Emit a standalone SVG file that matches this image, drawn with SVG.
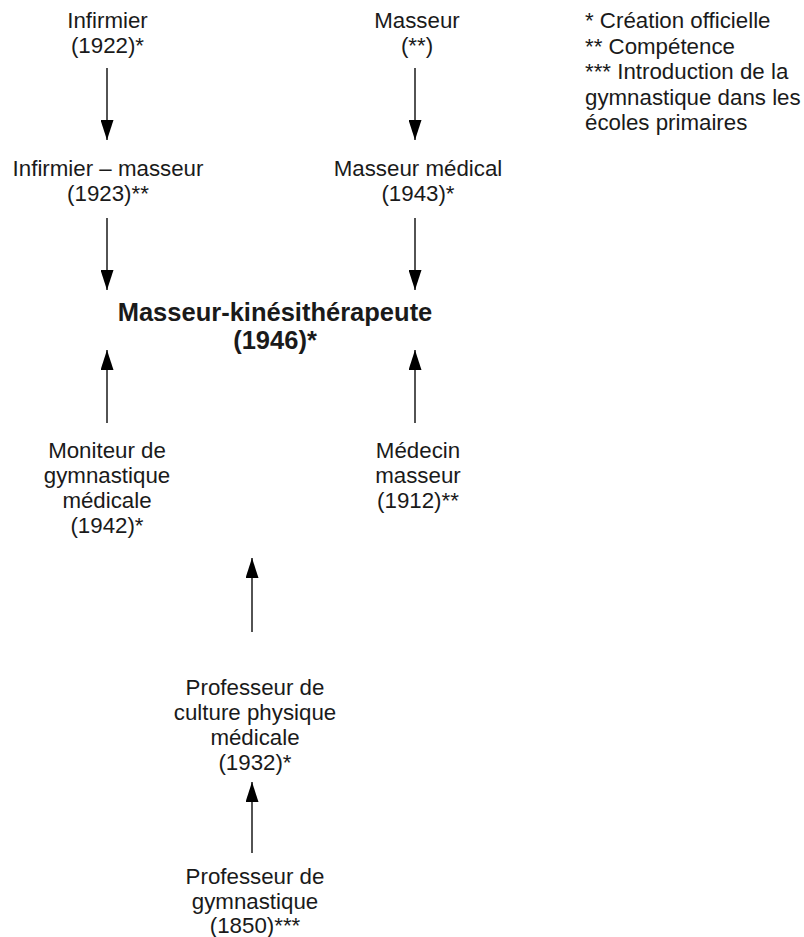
<svg xmlns="http://www.w3.org/2000/svg" width="804" height="937" viewBox="0 0 804 937">
<style>
text{font-family:"Liberation Sans",Arial,sans-serif;font-size:22.3px;fill:#1a1a1a}
.c{text-anchor:middle}
.b{font-weight:bold;font-size:25.5px}
.e{stroke:#1a1a1a;stroke-width:1.5;fill:none;marker-end:url(#ah)}
</style>
<defs>
<marker id="ah" markerUnits="userSpaceOnUse" markerWidth="20" markerHeight="13" refX="20" refY="6.5" orient="auto">
<path d="M0,0 L20,6.5 L0,13 z" fill="#000"/>
</marker>
</defs>
<rect width="804" height="937" fill="#fff"/>
<g id="connectors">
<line class="e" x1="107" y1="68" x2="107" y2="140"/>
<line class="e" x1="415" y1="68" x2="415" y2="140"/>
<line class="e" x1="107" y1="218" x2="107" y2="290"/>
<line class="e" x1="415" y1="218" x2="415" y2="290"/>
<line class="e" x1="107" y1="423" x2="107" y2="350"/>
<line class="e" x1="415" y1="423" x2="415" y2="350"/>
<line class="e" x1="252" y1="632" x2="252" y2="558"/>
<line class="e" x1="252" y1="853" x2="252" y2="782"/>
</g>
<g id="infirmier"><text class="c" x="107.5" y="28">Infirmier</text><text class="c" x="107.5" y="53">(1922)*</text></g>
<g id="masseur"><text class="c" x="417" y="28">Masseur</text><text class="c" x="417" y="53">(**)</text></g>
<g id="legend">
<text x="585" y="28">* Création officielle</text>
<text x="585" y="53.5">** Compétence</text>
<text x="585" y="79">*** Introduction de la</text>
<text x="585" y="104.5">gymnastique dans les</text>
<text x="585" y="130">écoles primaires</text>
</g>
<g id="infirmier-masseur"><text class="c" x="108" y="176">Infirmier – masseur</text><text class="c" x="108" y="201">(1923)**</text></g>
<g id="masseur-medical"><text class="c" x="418" y="176">Masseur médical</text><text class="c" x="418" y="201">(1943)*</text></g>
<g id="mk"><text class="c b" x="275" y="321">Masseur-kinésithérapeute</text><text class="c b" x="275" y="349">(1946)*</text></g>
<g id="moniteur"><text class="c" x="107" y="458">Moniteur de</text><text class="c" x="107" y="483">gymnastique</text><text class="c" x="107" y="508">médicale</text><text class="c" x="107" y="533">(1942)*</text></g>
<g id="medecin"><text class="c" x="418" y="458">Médecin</text><text class="c" x="418" y="483">masseur</text><text class="c" x="418" y="508">(1912)**</text></g>
<g id="prof-culture"><text class="c" x="255" y="695">Professeur de</text><text class="c" x="255" y="720">culture physique</text><text class="c" x="255" y="745">médicale</text><text class="c" x="255" y="770">(1932)*</text></g>
<g id="prof-gym"><text class="c" x="255" y="884">Professeur de</text><text class="c" x="255" y="909">gymnastique</text><text class="c" x="255" y="933">(1850)***</text></g>
</svg>
